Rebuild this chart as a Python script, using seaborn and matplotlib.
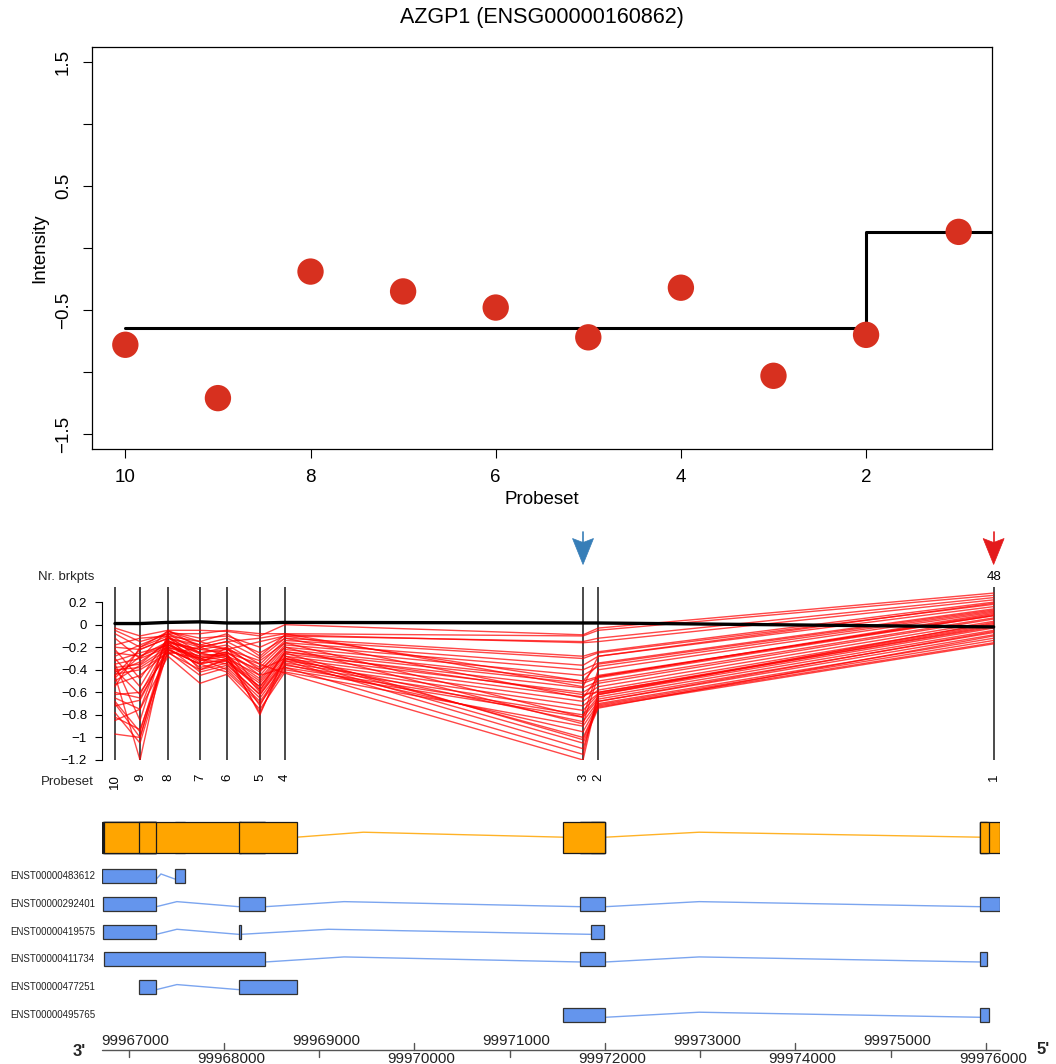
import numpy as np
import pandas as pd
import matplotlib
matplotlib.use("Agg")
import matplotlib.pyplot as plt
import seaborn as sns
from matplotlib.patches import Rectangle, Polygon
from matplotlib.transforms import Affine2D, ScaledTranslation, blended_transform_factory

# ---------------------------------------------------------------- data
gene_title = "AZGP1 (ENSG00000160862)"

probesets = [10, 9, 8, 7, 6, 5, 4, 3, 2, 1]
intensity = [-0.78, -1.21, -0.19, -0.35, -0.48, -0.72, -0.32, -1.03, -0.70, 0.13]
segment_of_probeset = [1, 1, 1, 1, 1, 1, 1, 1, 1, 2]

# genomic start of each probeset (same order as `probesets`)
probe_pos = [99966856, 99967119, 99967413, 99967749, 99968032,
             99968378, 99968641, 99971770, 99971930, 99976081]

# per-sample profiles across probesets 10 .. 1
profiles = [
    [-0.03, -0.10, -0.05, -0.05, -0.06, -0.10, -0.00, -0.09, -0.03, 0.28],
    [-0.05, -0.15, -0.08, -0.08, -0.05, -0.08, -0.08, -0.10, -0.05, 0.26],
    [-0.08, -0.20, -0.06, -0.12, -0.10, -0.20, -0.10, -0.15, -0.12, 0.24],
    [-0.18, -0.12, -0.10, -0.15, -0.08, -0.28, -0.09, -0.16, -0.15, 0.22],
    [-0.20, -0.22, -0.12, -0.20, -0.15, -0.30, -0.12, -0.28, -0.24, 0.20],
    [-0.25, -0.28, -0.15, -0.22, -0.18, -0.35, -0.14, -0.30, -0.25, 0.18],
    [-0.28, -0.18, -0.08, -0.25, -0.22, -0.38, -0.16, -0.36, -0.28, 0.16],
    [-0.32, -0.25, -0.18, -0.28, -0.25, -0.42, -0.18, -0.40, -0.34, 0.14],
    [-0.35, -0.30, -0.20, -0.30, -0.24, -0.45, -0.20, -0.45, -0.37, 0.12],
    [-0.38, -0.35, -0.14, -0.32, -0.28, -0.48, -0.22, -0.50, -0.46, 0.10],
    [-0.40, -0.38, -0.22, -0.35, -0.30, -0.50, -0.24, -0.52, -0.47, 0.08],
    [-0.42, -0.33, -0.16, -0.38, -0.32, -0.52, -0.26, -0.56, -0.50, 0.06],
    [-0.44, -0.40, -0.25, -0.40, -0.34, -0.55, -0.28, -0.60, -0.52, 0.05],
    [-0.45, -0.22, -0.12, -0.25, -0.20, -0.58, -0.30, -0.64, -0.55, 0.03],
    [-0.47, -0.28, -0.18, -0.30, -0.26, -0.60, -0.32, -0.68, -0.58, 0.01],
    [-0.50, -0.36, -0.20, -0.42, -0.36, -0.62, -0.34, -0.72, -0.61, -0.01],
    [-0.53, -0.45, -0.24, -0.45, -0.38, -0.65, -0.36, -0.76, -0.62, -0.03],
    [-0.55, -0.20, -0.10, -0.30, -0.40, -0.68, -0.38, -0.80, -0.64, -0.05],
    [-0.60, -0.65, -0.22, -0.35, -0.42, -0.70, -0.40, -0.82, -0.66, -0.07],
    [-0.62, -0.60, -0.26, -0.20, -0.28, -0.72, -0.30, -0.86, -0.68, -0.09],
    [-0.65, -0.75, -0.28, -0.52, -0.44, -0.75, -0.42, -0.90, -0.70, -0.12],
    [-0.68, -0.95, -0.15, -0.25, -0.30, -0.78, -0.35, -0.95, -0.71, -0.14],
    [-0.70, -1.00, -0.18, -0.32, -0.26, -0.80, -0.28, -1.00, -0.72, -0.16],
    [-0.72, -0.67, -0.20, -0.28, -0.32, -0.55, -0.25, -1.02, -0.73, -0.17],
    [-0.78, -1.05, -0.22, -0.35, -0.20, -0.40, -0.30, -1.05, -0.74, -0.10],
    [-0.82, -0.93, -0.24, -0.30, -0.35, -0.62, -0.32, -1.10, -0.68, -0.06],
    [-0.85, -0.75, -0.10, -0.40, -0.30, -0.45, -0.38, -1.15, -0.60, 0.00],
    [-0.97, -1.00, -0.16, -0.22, -0.25, -0.35, -0.43, -1.20, -0.62, 0.02],
    [-0.45, -1.20, -0.08, -0.18, -0.12, -0.25, -0.12, -0.65, -0.46, 0.09],
    [-0.35, -0.85, -0.06, -0.15, -0.22, -0.15, -0.10, -0.50, -0.35, 0.13],
    [-0.12, -0.30, -0.05, -0.20, -0.15, -0.12, -0.08, -0.55, -0.28, 0.19],
    [-0.22, -0.48, -0.12, -0.18, -0.22, -0.32, -0.16, -0.82, -0.40, 0.11],
    [-0.30, -0.55, -0.14, -0.26, -0.28, -0.40, -0.20, -0.88, -0.45, 0.08],
    [-0.40, -0.62, -0.16, -0.34, -0.32, -0.58, -0.24, -0.62, -0.60, -0.02],
]
reference_profile = [0.010, 0.010, 0.020, 0.025, 0.015, 0.015, 0.020, 0.015, 0.015, -0.020]

# breakpoint markers: (probeset, colour, count shown above or None)
breakpoints = [(3, "#377EB8", None), (1, "#E41A1C", 48)]

transcript_names = ["ENST00000483612", "ENST00000292401", "ENST00000419575",
                    "ENST00000411734", "ENST00000477251", "ENST00000495765"]
transcript_exons = [
    [(99966723, 99967290), (99967486, 99967594)],
    [(99966733, 99967290), (99968155, 99968434), (99971743, 99972006), (99975940, 99976151)],
    [(99966733, 99967290), (99968155, 99968179), (99971851, 99971994)],
    [(99966744, 99968434), (99971743, 99972006), (99975940, 99976015)],
    [(99967111, 99967290), (99968155, 99968764)],
    [(99971564, 99972006), (99975940, 99976036)],
]
genome_ticks = list(range(99967000, 99976001, 1000))
genome_range = (99966723, 99976151)

# ---------------------------------------------------------------- style
sns.set_theme(style="ticks")
plt.rcParams["font.family"] = ["Liberation Sans", "DejaVu Sans"]
plt.rcParams["axes.unicode_minus"] = True

W, H, DPI = 1056, 1064, 100
fig = plt.figure(figsize=(W / DPI, H / DPI), dpi=DPI)
fig.patch.set_facecolor("white")


def px_axes(left, top, right, bottom):
    return fig.add_axes([left / W, 1 - bottom / H, (right - left) / W, (bottom - top) / H])


def fmt(v):
    if abs(v) < 1e-9:
        return "0"
    return f"{v:g}".replace("-", "\u2212")


# ---------------------------------------------------------------- top panel
ax1 = px_axes(92, 47, 992, 449)
top_df = pd.DataFrame({"probeset": probesets, "intensity": intensity,
                       "segment": segment_of_probeset})
sns.scatterplot(data=top_df, x="probeset", y="intensity", s=360, color="#D7301F",
                edgecolor="none", ax=ax1, zorder=3, legend=False)

seg_mean = top_df.groupby("segment")["intensity"].mean()
seg_first = top_df.groupby("segment")["probeset"].max()
seg_last = top_df.groupby("segment")["probeset"].min()
step_x, step_y = [], []
segs = list(seg_mean.index)
for k, s in enumerate(segs):
    x0 = seg_first[s] if k == 0 else seg_last[segs[k - 1]]
    x1 = seg_last[s] if k < len(segs) - 1 else 0
    step_x += [x0, x1]
    step_y += [seg_mean[s], seg_mean[s]]
ax1.plot(step_x, step_y, color="black", lw=2.2, zorder=2)

ax1.set_xlim(10.36, 0.64)
ax1.set_ylim(-1.62, 1.62)
ax1.set_xticks([10, 8, 6, 4, 2])
ax1.set_xticklabels(["10", "8", "6", "4", "2"])
yt = [-1.5, -1.0, -0.5, 0.0, 0.5, 1.0, 1.5]
ax1.set_yticks(yt)
ax1.set_yticklabels([fmt(v) if v in (-1.5, -0.5, 0.5, 1.5) else "" for v in yt],
                    rotation=90, va="center")
ax1.tick_params(axis="both", direction="out", length=6.5, width=0.8, color="black",
                labelsize=13.5, labelcolor="black")
ax1.tick_params(axis="x", pad=8)
ax1.tick_params(axis="y", pad=8)
for sp in ax1.spines.values():
    sp.set_visible(True)
    sp.set_color("black")
    sp.set_linewidth(0.9)
ax1.set_xlabel("Probeset", fontsize=13.5, color="black")
ax1.set_ylabel("Intensity", fontsize=13.5, color="black")
ax1.xaxis.set_label_coords(0.5, -(491 - 449) / 402)
ax1.yaxis.set_label_coords((48 - 92) / 900, 0.5)
ax1.set_title(gene_title, fontsize=15.5, color="black", pad=0,
              y=1 + (47 - 18) / 402, va="center")

# ---------------------------------------------------------------- middle panel
ax2 = px_axes(102.3, 587, 1000.3, 760)
ax2.set_xlim(*genome_range)
ax2.set_ylim(-1.2, 0.334)

ax2.vlines(probe_pos, -1.2, 0.334, color="#1a1a1a", lw=1.1, zorder=1)

long_df = pd.DataFrame([
    {"sample": i, "pos": p, "value": v}
    for i, prof in enumerate(profiles)
    for p, v in zip(probe_pos, prof)
])
sns.lineplot(data=long_df, x="pos", y="value", units="sample", estimator=None,
             color="#FF0000", alpha=0.72, lw=1.0, ax=ax2, legend=False, zorder=2)
ax2.plot(probe_pos, reference_profile, color="black", lw=2.4, zorder=3)

for name in ["top", "right", "bottom"]:
    ax2.spines[name].set_visible(False)
ax2.spines["left"].set_bounds(-1.2, 0.2)
ax2.spines["left"].set_color("black")
ax2.spines["left"].set_linewidth(0.8)
mt = np.round(np.arange(-1.2, 0.21, 0.2), 1)
ax2.set_yticks(mt)
ax2.set_yticklabels([fmt(v) for v in mt])
ax2.tick_params(axis="y", direction="out", length=5, width=0.8, color="black",
                labelsize=9.5, labelcolor="black", pad=6)
ax2.set_xticks([])
ax2.set_xlabel("")
ax2.set_ylabel("")

for pos, p in zip(probe_pos, probesets):
    ax2.annotate(str(p), xy=(pos, 0), xycoords=("data", "axes fraction"),
                 xytext=(0, -10), textcoords="offset points", rotation=90,
                 ha="center", va="top", fontsize=9.5, color="black")

fig.text(67 / W, 1 - 782 / H, "Probeset", fontsize=9.5, ha="center", va="center")
fig.text(66 / W, 1 - 577 / H, "Nr. brkpts", fontsize=9.5, ha="center", va="center")

# breakpoint arrows above the probeset lines (vertex offsets in pixels)
arrow_head = [(0, 22.5), (10.5, 48.5), (0, 44.5), (-10.5, 48.5)]
for p, col, count in breakpoints:
    pos = probe_pos[probesets.index(p)]
    tr = Affine2D() + ScaledTranslation(pos, 1.0, ax2.get_xaxis_transform())
    ax2.add_patch(Polygon(arrow_head, closed=True, facecolor=col, edgecolor=col,
                          lw=0.5, transform=tr, clip_on=False))
    ax2.plot([0, 0], [44.5, 55], color=col, lw=1.2, transform=tr, clip_on=False)
    if count is not None:
        ax2.annotate(str(count), xy=(pos, 1.0), xycoords=("data", "axes fraction"),
                     xytext=(0, 7.2), textcoords="offset points", ha="center",
                     va="center", fontsize=9.5, color="black")

# ---------------------------------------------------------------- gene model
ax3 = px_axes(102.3, 812, 1000.3, 1064)
ax3.set_xlim(*genome_range)
ax3.set_ylim(6.79, -2.325)
ax3.axis("off")

GENE_ROW, GENE_HALF = -1.414, 0.56
TX_HALF = 0.253
AXIS_ROW = 6.28
orange, blue = "#FFA500", "#6495ED"


def intron(s, e, y, lift, drop, color):
    xs = [s, s + 0.25 * (e - s), e]
    ys = [y + drop, y - lift, y + drop]
    ax3.plot(xs, ys, color=color, lw=1.0, alpha=0.85, zorder=1, solid_joinstyle="miter")


# collapsed gene: merged exon blocks joined by introns
all_ex = sorted(ex for exs in transcript_exons for ex in exs)
blocks = []
for s, e in all_ex:
    if blocks and s <= blocks[-1][1]:
        blocks[-1][1] = max(blocks[-1][1], e)
    else:
        blocks.append([s, e])
for (s0, e0), (s1, e1) in zip(blocks[:-1], blocks[1:]):
    intron(e0, s1, GENE_ROW, 0.18, 0.0, orange)
for exs in transcript_exons:
    for s, e in exs:
        ax3.add_patch(Rectangle((s, GENE_ROW - GENE_HALF), e - s, 2 * GENE_HALF,
                                facecolor=orange, edgecolor="#1a1a1a", lw=0.9, zorder=2))

label_tr = blended_transform_factory(fig.transFigure, ax3.transData)
for row, (name, exs) in enumerate(zip(transcript_names, transcript_exons)):
    for (s0, e0), (s1, e1) in zip(exs[:-1], exs[1:]):
        intron(e0, s1, row, 0.083, 0.1, blue)
    for s, e in exs:
        ax3.add_patch(Rectangle((s, row - TX_HALF), e - s, 2 * TX_HALF,
                                facecolor=blue, edgecolor="#333333", lw=0.9, zorder=2))
    ax3.text(10 / W, row, name, transform=label_tr, fontsize=7, ha="left",
             va="center", color="#222222")

# genome coordinate axis
ax3.plot(genome_range, [AXIS_ROW, AXIS_ROW], color="#555555", lw=1.0, clip_on=False)
for k, t in enumerate(genome_ticks):
    above = (k % 2 == 0)
    tick_len = 0.26
    if above:
        ax3.plot([t, t], [AXIS_ROW, AXIS_ROW + tick_len], color="#555555", lw=1.0, clip_on=False)
        ax3.annotate(str(t), xy=(t, AXIS_ROW), xytext=(5, 1.5), textcoords="offset points",
                     ha="center", va="bottom", fontsize=11, color="#222222",
                     annotation_clip=False)
    else:
        ax3.plot([t, t], [AXIS_ROW - tick_len, AXIS_ROW], color="#555555", lw=1.0, clip_on=False)
        ax3.annotate(str(t), xy=(t, AXIS_ROW), xytext=(5, -1.5), textcoords="offset points",
                     ha="center", va="top", fontsize=11, color="#222222",
                     annotation_clip=False)

fig.text(79 / W, 1 - 1051 / H, "3'", fontsize=12, fontweight="bold", ha="center", va="center")
fig.text(1043 / W, 1 - 1050 / H, "5'", fontsize=12, fontweight="bold", ha="center", va="center")

fig.savefig("out.png", dpi=DPI, facecolor="white")
